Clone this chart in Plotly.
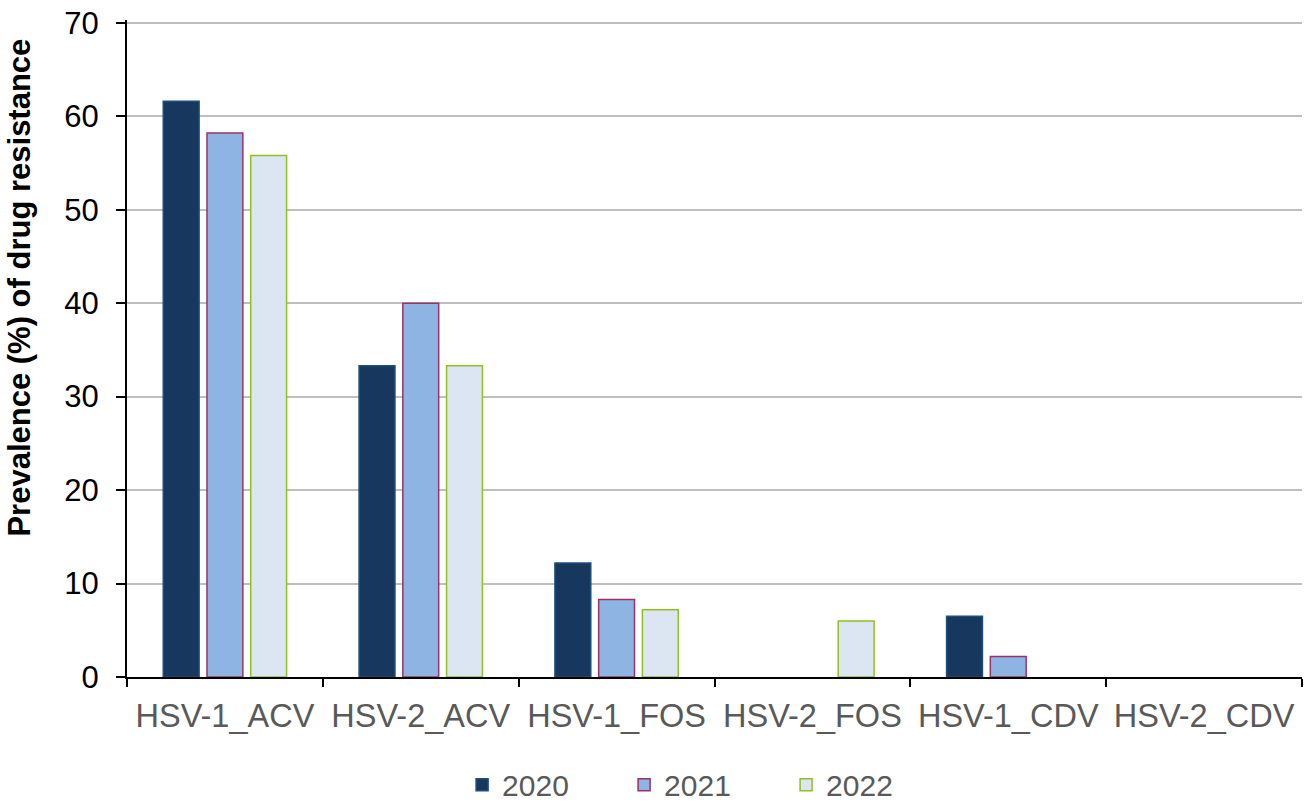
import plotly.graph_objects as go

categories = ["HSV-1_ACV", "HSV-2_ACV", "HSV-1_FOS", "HSV-2_FOS", "HSV-1_CDV", "HSV-2_CDV"]
years = ["2020", "2021", "2022"]
v2020 = [61.6, 33.3, 12.2, 0, 6.5, 0]
v2021 = [58.2, 40.0, 8.3, 0, 2.2, 0]
v2022 = [55.8, 33.3, 7.2, 6.0, 0, 0]

fills = ["#17375E", "#8EB4E3", "#DCE6F2"]
borders = ["#1F4E79", "#993366", "#8DC21F"]

fig = go.Figure()
for name, vals, fc, bc in zip(years, [v2020, v2021, v2022], fills, borders):
    fig.add_trace(go.Bar(
        x=categories, y=vals, name=name,
        marker=dict(color=fc, line=dict(color=bc, width=[1.5 if v > 0 else 0 for v in vals])),
    ))

fig.update_layout(
    width=1306, height=805,
    barmode="group", bargap=0.33, bargroupgap=0.18,
    plot_bgcolor="white", paper_bgcolor="white",
    margin=dict(l=127, r=4, t=20, b=128, autoexpand=False),
    font=dict(family="Liberation Sans, Arial, sans-serif", size=32, color="#595959"),
    showlegend=True,
    legend=dict(orientation="h", x=0.492, xanchor="center", yref="paper", y=-0.164, yanchor="middle",
                font=dict(size=30, color="#595959"), entrywidth=117, traceorder="normal"),
    annotations=[dict(
        text="<b>Prevalence (%) of drug resistance</b>", textangle=-90,
        xref="paper", yref="paper", x=-127 / 1175, y=0.592, xanchor="left", yanchor="middle",
        showarrow=False, font=dict(size=31, color="black"),
    )],
)
fig.update_xaxes(
    showline=True, linecolor="black", linewidth=2,
    ticks="outside", ticklen=8, tickwidth=2, tickcolor="black",
    tickson="boundaries", ticklabelstandoff=9,
    tickfont=dict(size=32.5, color="#595959"),
)
fig.update_yaxes(
    range=[0, 70.3], dtick=10,
    showline=True, linecolor="black", linewidth=2,
    ticks="outside", ticklen=9, tickwidth=2, tickcolor="black",
    showgrid=True, gridcolor="#BFBFBF", gridwidth=2,
    zeroline=False, ticklabelstandoff=11,
    tickfont=dict(size=31, color="black"),
)

fig.write_html("out.html", config={"displayModeBar": False},
               post_script="document.body.style.margin='0';")
